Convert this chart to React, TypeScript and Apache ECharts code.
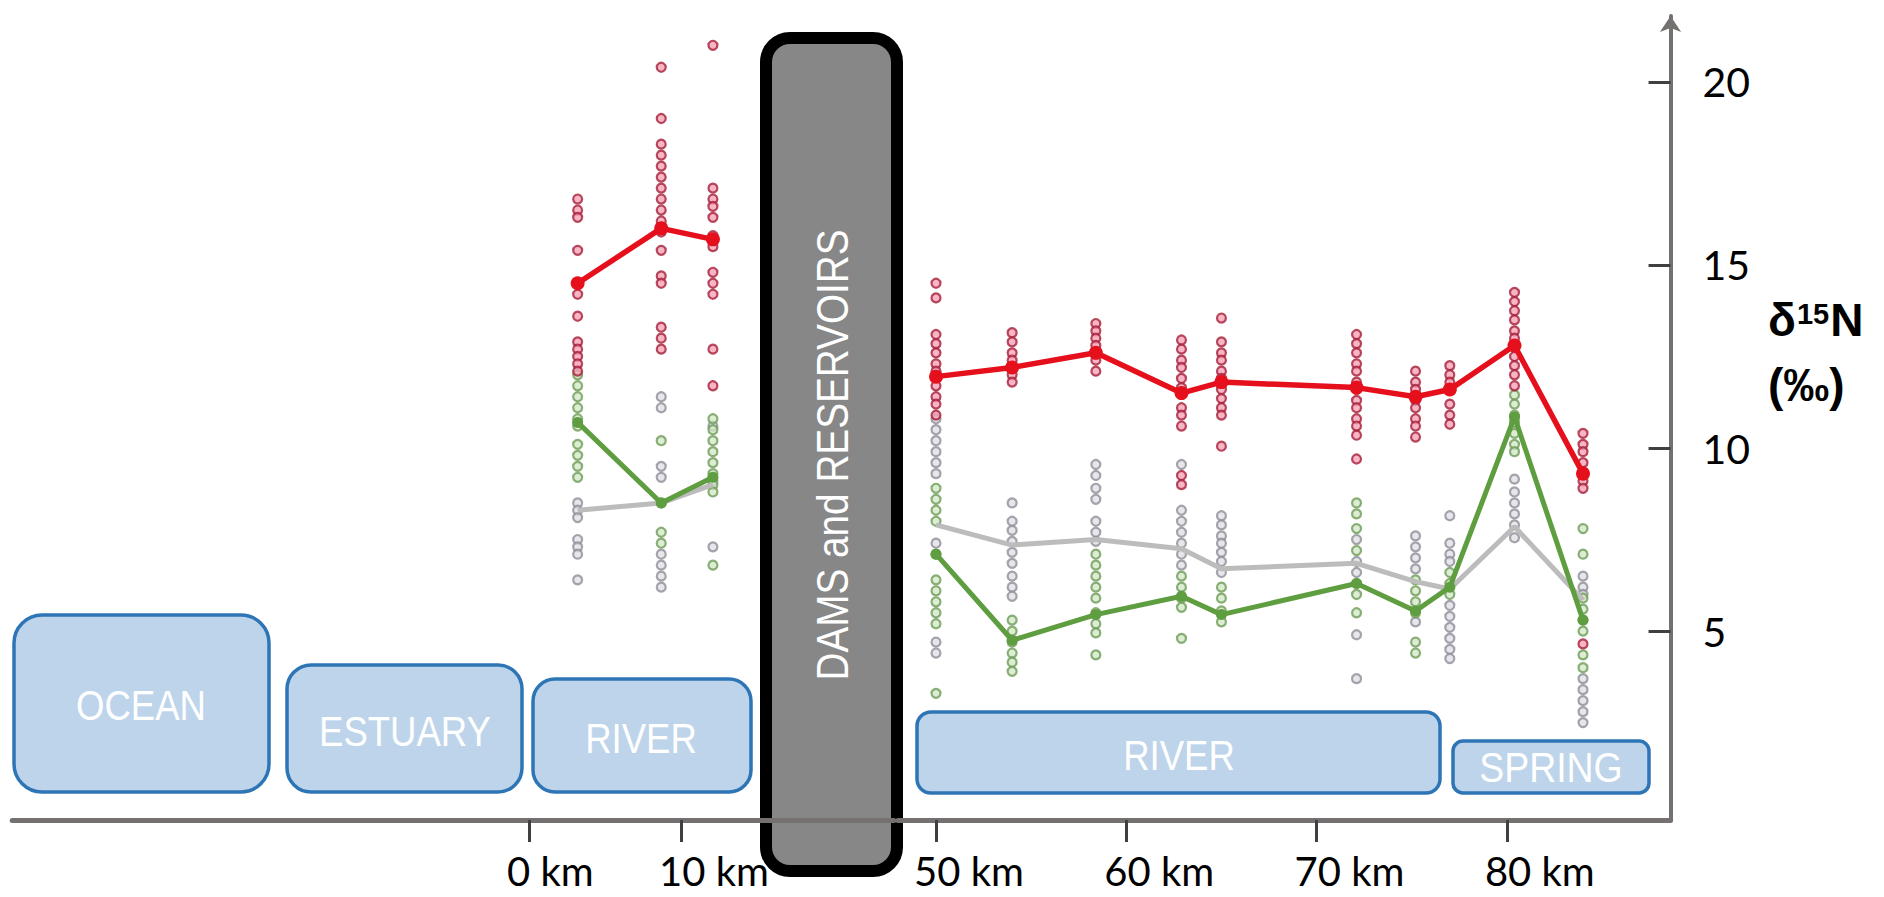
import React, { useEffect, useRef } from "react";
import * as echarts from "echarts";

// ---------- DATA ----------
// Sampling sites (km along the river), left reach (below dams) and right reach (above dams)
const leftKm = [3.2, 8.7, 12.1];
const rightKm = [50, 54, 58.4, 62.9, 65, 72.1, 75.2, 77, 80.4, 84];

// Individual δ15N values (‰) per site
const redLeft = [
  [16.8, 16.5, 16.3, 15.4, 14.5, 14.2, 13.6, 12.9, 12.7, 12.5, 12.3, 12.1],
  [20.4, 19.0, 18.3, 18.0, 17.7, 17.4, 17.1, 16.8, 16.5, 16.2, 15.9, 15.4, 14.7, 14.5, 13.3, 13.0, 12.7],
  [21.0, 17.1, 16.8, 16.6, 16.3, 15.8, 15.5, 14.8, 14.5, 14.2, 12.7, 11.7],
];
const greenLeft = [
  [12.0, 11.7, 11.4, 11.1, 10.8, 10.6, 10.1, 9.8, 9.5, 9.2],
  [10.2, 8.5, 7.7, 7.4],
  [10.8, 10.5, 10.2, 9.9, 9.6, 9.3, 9.0, 8.8, 6.8],
];
const greyLeft = [
  [8.5, 8.3, 8.1, 7.5, 7.3, 7.1, 6.4],
  [11.4, 11.1, 9.5, 9.2, 7.1, 6.8, 6.5, 6.2],
  [10.6, 9.1, 7.3],
];
const redRight = [
  [14.5, 14.1, 13.1, 12.85, 12.6, 12.3, 12.1, 11.7, 11.4, 11.2, 10.9],
  [13.15, 12.9, 12.6, 12.4, 12.2, 12.0, 11.8],
  [13.4, 13.2, 13.0, 12.8, 12.6, 12.4, 12.1],
  [12.95, 12.7, 12.4, 12.2, 11.9, 11.65, 11.5, 11.1, 10.9, 10.6, 9.25, 9.0],
  [13.55, 12.9, 12.6, 12.4, 12.1, 11.9, 11.6, 11.35, 11.1, 10.9, 10.05],
  [13.1, 12.85, 12.6, 12.3, 12.1, 11.8, 11.6, 11.3, 11.1, 10.8, 10.6, 10.35, 9.7],
  [12.1, 11.8, 11.6, 11.3, 11.1, 10.8, 10.6, 10.3],
  [12.25, 12.0, 11.8, 11.2, 10.9, 10.65],
  [14.25, 14.0, 13.75, 13.5, 13.2, 13.0, 12.75, 12.5, 12.25, 12.0, 11.7],
  [10.4, 10.1, 9.9, 9.6, 9.35, 9.1, 8.9, 4.65],
];
const greenRight = [
  [8.9, 8.6, 8.3, 8.0, 7.1, 6.4, 6.1, 5.8, 5.5, 5.2, 3.3],
  [5.3, 5.0, 4.7, 4.4, 4.15, 3.9],
  [7.1, 6.8, 6.5, 6.2, 5.9, 5.5, 5.2, 4.95, 4.35],
  [6.5, 6.2, 5.9, 5.65, 4.8],
  [6.2, 5.9, 5.55, 5.25],
  [8.5, 8.2, 7.8, 7.2, 6.3, 6.0, 5.5],
  [6.4, 6.1, 5.8, 5.5, 4.7, 4.4],
  [6.6, 6.3, 6.0],
  [11.45, 11.2, 10.9, 10.7, 10.4, 10.1, 9.9],
  [7.8, 7.1, 5.9, 5.6, 5.3, 5.0, 4.35, 4.0],
];
const greyRight = [
  [10.8, 10.5, 10.2, 9.9, 9.6, 9.3, 7.4, 4.7, 4.4],
  [8.5, 8.0, 7.75, 7.45, 7.15, 6.85, 6.5, 6.2, 5.95],
  [9.55, 9.25, 8.9, 8.6, 8.0, 7.7, 7.45],
  [9.55, 8.3, 8.0, 7.7, 7.4, 7.1, 6.8],
  [8.15, 7.9, 7.6, 7.4, 7.15, 6.9, 6.6],
  [7.5, 6.9, 6.6, 4.9, 3.7],
  [7.6, 7.3, 7.0, 6.7, 5.25],
  [8.15, 7.4, 7.1, 6.9, 5.7, 5.4, 5.1, 4.8, 4.5, 4.25],
  [9.15, 8.8, 8.5, 8.2, 7.9, 7.55],
  [6.5, 6.2, 6.0, 3.7, 3.4, 3.1, 2.8, 2.5],
];

// Site means (‰)
const redLeftMean = [14.5, 16.0, 15.7];
const greenLeftMean = [10.7, 8.5, 9.2];
const greyLeftMean = [8.3, 8.5, 9.0];
const redRightMean = [11.95, 12.2, 12.6, 11.5, 11.8, 11.65, 11.4, 11.6, 12.8, 9.3];
const greenRightMean = [7.1, 4.75, 5.45, 5.95, 5.45, 6.3, 5.55, 6.2, 10.85, 5.3];
const greyRightMean = [7.9, 7.35, 7.5, 7.25, 6.7, 6.85, 6.35, 6.15, 7.85, 5.85];

// Tick labels
const xTicksLeft = [0, 10];
const xTicksRight = [50, 60, 70, 80];
const yTicks = [5, 10, 15, 20];

// Zone labels
const zoneNames = ["OCEAN", "ESTUARY", "RIVER", "RIVER", "SPRING"];
const damLabel = "DAMS and RESERVOIRS";
const yTitleLines = ["δ", "15", "N", "(‰)"];

// ---------- LAYOUT / STYLE ----------
const FONT = "Lato, 'Liberation Sans', sans-serif";
const BOX_FONT = "'Liberation Sans', Arial, sans-serif";
const Y_MIN = -0.16;
const Y_MAX = 21.8;
const GRID_TOP = 16;
const GRID_BOTTOM = 77;

const zoneBoxes = [
  { x: 14, y: 615, w: 255, h: 177, r: 28, tx: 141, ty: 705, fs: 42 },
  { x: 287, y: 665, w: 235, h: 127, r: 24, tx: 405, ty: 731, fs: 42 },
  { x: 533, y: 679, w: 218, h: 113, r: 22, tx: 641, ty: 738, fs: 42 },
  { x: 917, y: 712, w: 523, h: 81, r: 14, tx: 1179, ty: 755, fs: 42 },
  { x: 1453, y: 741, w: 196, h: 52, r: 10, tx: 1551, ty: 768, fs: 43 },
];

const toPts = (km: number[], cols: number[][]) =>
  cols.flatMap((c, i) => c.map((v) => [km[i], v]));
const toLine = (km: number[], m: number[]) => km.map((k, i) => [k, m[i]]);

const SCATTER_STYLE = {
  red: { color: "rgba(245,155,178,0.92)", borderColor: "#a51f38", borderWidth: 2.2 },
  green: { color: "rgba(208,230,196,0.92)", borderColor: "#6e9c57", borderWidth: 2.2 },
  grey: { color: "rgba(222,222,228,0.92)", borderColor: "#8e8e98", borderWidth: 2.2 },
};
const LINE_COLOR = { red: "#e60f1c", green: "#5f9e40", grey: "#bcbcbc" };

function scatter(name: string, grid: number, km: number[], cols: number[][], key: "red" | "green" | "grey") {
  return {
    name,
    type: "scatter",
    xAxisIndex: grid,
    yAxisIndex: grid,
    symbol: "circle",
    symbolSize: 9,
    itemStyle: SCATTER_STYLE[key],
    data: toPts(km, cols),
    z: 2,
    silent: true,
  };
}
function meanLine(name: string, grid: number, km: number[], m: number[], key: "red" | "green" | "grey") {
  const sym = key === "red" ? 14 : key === "green" ? 11 : 0;
  return {
    name,
    type: "line",
    xAxisIndex: grid,
    yAxisIndex: grid,
    data: toLine(km, m),
    symbol: sym ? "circle" : "none",
    symbolSize: sym,
    showSymbol: sym > 0,
    lineStyle: { color: LINE_COLOR[key], width: key === "red" ? 5.5 : 5 },
    itemStyle: { color: LINE_COLOR[key] },
    z: key === "red" ? 6 : key === "green" ? 5 : 4,
    silent: true,
  };
}

const xAxisCommon = (ticks: number[]) => ({
  type: "value",
  axisLine: { show: true, onZero: false, lineStyle: { color: "#767171", width: 5 } },
  axisTick: { show: true, customValues: ticks, length: 22, lineStyle: { color: "#404040", width: 3 } },
  axisLabel: {
    show: true,
    customValues: ticks,
    margin: 31,
    formatter: (v: number) => `{a|${v} km}`,
    rich: { a: { width: 44, align: "left", fontSize: 40, lineHeight: 40, fontFamily: FONT, color: "#000" } },
  },
  splitLine: { show: false },
});

export default function App() {
  const ref = useRef<HTMLDivElement>(null);
  useEffect(() => {
    if (!ref.current) return;
    const chart = echarts.init(ref.current, undefined, { renderer: "svg" });

    const graphics: any[] = [];
    zoneBoxes.forEach((b, i) => {
      graphics.push({
        type: "rect",
        z: -1,
        shape: { x: b.x, y: b.y, width: b.w, height: b.h, r: b.r },
        style: { fill: "#bed4ea", stroke: "#2e75b6", lineWidth: 3.5 },
        silent: true,
      });
      graphics.push({
        type: "text",
        z: -1,
        x: b.tx,
        y: b.ty,
        scaleX: 0.87,
        style: {
          text: zoneNames[i],
          fill: "#ffffff",
          fontSize: b.fs,
          fontFamily: BOX_FONT,
          align: "center",
          verticalAlign: "middle",
          textAlign: "center",
          textVerticalAlign: "middle",
        },
        silent: true,
      });
    });
    graphics.push({
      type: "rect",
      z: -1,
      shape: { x: 766, y: 38, width: 131, height: 833, r: 24 },
      style: { fill: "#878787", stroke: "#000000", lineWidth: 12 },
      silent: true,
    });
    graphics.push({
      type: "text",
      z: -1,
      x: 833,
      y: 455,
      rotation: Math.PI / 2,
      scaleX: 0.88,
      style: {
        text: damLabel,
        fill: "#ffffff",
        fontSize: 44,
        fontFamily: BOX_FONT,
        align: "center",
        verticalAlign: "middle",
        textAlign: "center",
        textVerticalAlign: "middle",
      },
      silent: true,
    });
    graphics.push({
      type: "text",
      x: 1768,
      y: 297,
      style: {
        text: `{d|${yTitleLines[0]}}{s|${yTitleLines[1]}}{d|${yTitleLines[2]}}\n{p|${yTitleLines[3]}}`,
        align: "left",
        verticalAlign: "top",
        textAlign: "left",
        textVerticalAlign: "top",
        fill: "#000",
        rich: {
          d: { fontSize: 46, fontWeight: "bold", fontFamily: BOX_FONT, lineHeight: 46, fill: "#000", color: "#000" },
          s: { fontSize: 29, fontWeight: "bold", fontFamily: BOX_FONT, lineHeight: 29, verticalAlign: "top", padding: [2, 1, 0, 1], fill: "#000", color: "#000" },
          p: { fontSize: 46, fontWeight: "bold", fontFamily: BOX_FONT, lineHeight: 84, fill: "#000", color: "#000" },
        },
      },
      silent: true,
    });

    const option: any = {
      animation: false,
      backgroundColor: "#ffffff",
      grid: [
        { left: 12.2, width: 881.6, top: GRID_TOP, bottom: GRID_BOTTOM, containLabel: false, outerBoundsMode: "none" },
        { left: 897.94, width: 772.6, top: GRID_TOP, bottom: GRID_BOTTOM, containLabel: false, outerBoundsMode: "none" },
      ],
      xAxis: [
        { gridIndex: 0, min: -34, max: 24, ...xAxisCommon(xTicksLeft) },
        { gridIndex: 1, min: 48, max: 88.6, ...xAxisCommon(xTicksRight) },
      ],
      yAxis: [
        { gridIndex: 0, type: "value", min: Y_MIN, max: Y_MAX, show: false },
        {
          gridIndex: 1,
          type: "value",
          position: "right",
          min: Y_MIN,
          max: Y_MAX,
          axisLine: {
            show: true,
            onZero: false,
            symbol: ["none", "arrow"],
            symbolSize: [16, 16],
            lineStyle: { color: "#767171", width: 4 },
          },
          axisTick: { show: true, inside: true, length: 22, customValues: yTicks, lineStyle: { color: "#404040", width: 3 } },
          axisLabel: {
            show: true,
            customValues: yTicks,
            margin: 32,
            align: "left",
            padding: [0, 0, 16, 0],
            fontSize: 41,
            fontFamily: FONT,
            color: "#000",
          },
          splitLine: { show: false },
        },
      ],
      graphic: graphics,
      series: [
        scatter("grey L", 0, leftKm, greyLeft, "grey"),
        scatter("green L", 0, leftKm, greenLeft, "green"),
        scatter("red L", 0, leftKm, redLeft, "red"),
        scatter("grey R", 1, rightKm, greyRight, "grey"),
        scatter("green R", 1, rightKm, greenRight, "green"),
        scatter("red R", 1, rightKm, redRight, "red"),
        meanLine("grey mean L", 0, leftKm, greyLeftMean, "grey"),
        meanLine("green mean L", 0, leftKm, greenLeftMean, "green"),
        meanLine("red mean L", 0, leftKm, redLeftMean, "red"),
        meanLine("grey mean R", 1, rightKm, greyRightMean, "grey"),
        meanLine("green mean R", 1, rightKm, greenRightMean, "green"),
        meanLine("red mean R", 1, rightKm, redRightMean, "red"),
      ],
    };
    chart.setOption(option);
    return () => chart.dispose();
  }, []);
  return (
    <div
      ref={ref}
      style={{ position: "fixed", left: 0, top: 0, width: 1884, height: 897, background: "#fff" }}
    />
  );
}
